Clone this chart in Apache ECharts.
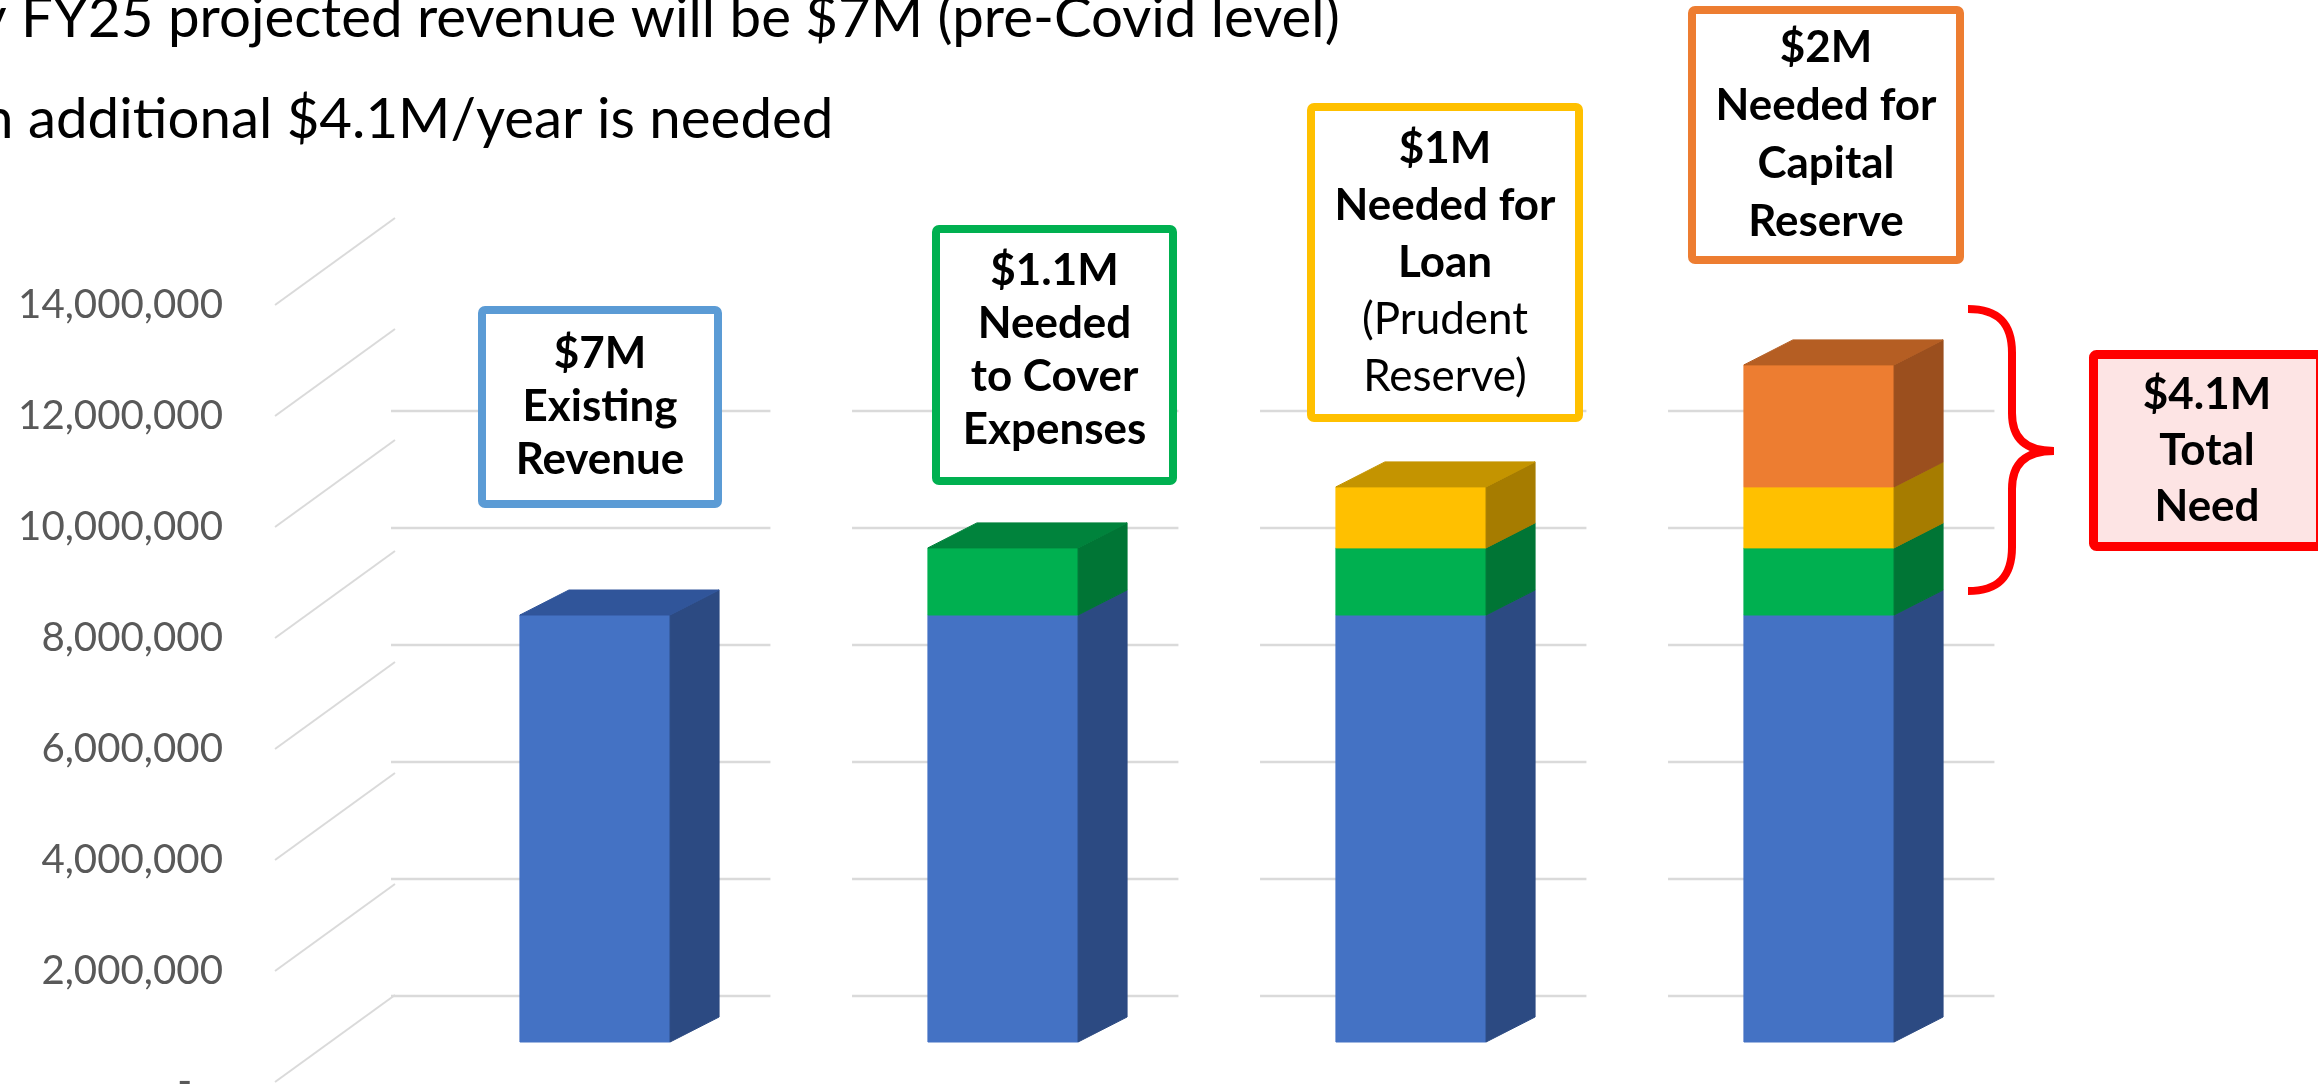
<!DOCTYPE html>
<html>
<head>
<meta charset="utf-8">
<script src="https://cdn.jsdelivr.net/npm/echarts@6/dist/echarts.min.js"></script>
<style>
  html, body { margin: 0; padding: 0; background: #ffffff; }
  #root { width: 2318px; height: 1085px; }
</style>
</head>
<body>
<div id="root"></div>
<script>
const categories = ['Existing Revenue', 'Cover Expenses', 'Loan', 'Capital Reserve']
const existingRevenue = [7000000, 7000000, 7000000, 7000000]
const coverExpenses = [0, 1100000, 1100000, 1100000]
const loanReserve = [0, 0, 1000000, 1000000]
const capitalReserve = [0, 0, 0, 2000000]
const yTicks = [0, 2000000, 4000000, 6000000, 8000000, 10000000, 12000000, 14000000]
const backWallMax = 10000000

const headlines = [
  'By FY25 projected revenue will be $7M (pre-Covid level)',
  'An additional $4.1M/year is needed'
]
const calloutText = [
  ['$7M', 'Existing', 'Revenue'],
  ['$1.1M', 'Needed', 'to Cover', 'Expenses'],
  ['$1M', 'Needed for', 'Loan', '(Prudent', 'Reserve)'],
  ['$2M', 'Needed for', 'Capital', 'Reserve'],
  ['$4.1M', 'Total', 'Need']
]

// slide layout (outer box bounds in px), not data
const boxes = [
  { x: 478, y: 306, w: 244, h: 202, stroke: '#5B9BD5', fill: '#FFFFFF', pitch: 53, dy: 0 },
  { x: 932, y: 225, w: 245, h: 260, stroke: '#00B050', fill: '#FFFFFF', pitch: 53, dy: -5 },
  { x: 1307, y: 103, w: 276, h: 319, stroke: '#FFC000', fill: '#FFFFFF', pitch: 57, dy: 0, plainFrom: 3 },
  { x: 1688, y: 6, w: 276, h: 258, stroke: '#ED7D31', fill: '#FFFFFF', pitch: 58, dy: 0 },
  { x: 2089, y: 350, w: 236, h: 201, stroke: '#FF0000', fill: '#FDE4E4', pitch: 56, dy: 0, lw: 9 }
]

const layers = [
  { name: 'Existing Revenue', values: existingRevenue, front: '#4472C4', side: '#2C4A82', top: '#30559A' },
  { name: 'Needed to Cover Expenses', values: coverExpenses, front: '#00B050', side: '#007535', top: '#00833C' },
  { name: 'Needed for Loan', values: loanReserve, front: '#FFC000', side: '#A67C00', top: '#C49400' },
  { name: 'Needed for Capital Reserve', values: capitalReserve, front: '#ED7D31', side: '#9B4F1E', top: '#B55E23' }
]

const DEPTH_X = 49
const DEPTH_Y = -25
const WALL_RISE = 87
const FONT = 'Lato, "Open Sans", sans-serif'

const ctx = document.createElement('canvas').getContext('2d')
const measure = (text, font) => {
  ctx.font = font
  return ctx.measureText(text).width
}

// fit font sizes to widths
const headBody = headlines[0].slice(headlines[0].indexOf(' ') + 1)
const headSize = 100 * 1320 / measure(headBody, `100px ${FONT}`)
const headFont = `${headSize.toFixed(1)}px ${FONT}`
const boxSize = 100 * 221 / measure('Needed for', `bold 100px ${FONT}`)
const labelSize = 100 * 205 / measure('14,000,000', `100px ${FONT}`)

const stackTop = categories.map((c, i) => {
  let top = -1
  layers.forEach((l, k) => { if (l.values[i] > 0) top = k })
  return top
})

const layerData = k => {
  const out = []
  categories.forEach((c, i) => {
    const v = layers[k].values[i]
    if (!v) return
    let base = 0
    for (let j = 0; j < k; j++) base += layers[j].values[i]
    out.push([i, base, base + v, stackTop[i] === k ? 1 : 0])
  })
  return out
}

const renderBlock = layer => (params, api) => {
  const i = api.value(0)
  const lo = api.coord([i, api.value(1)])
  const hi = api.coord([i, api.value(2)])
  const w = api.size([1, 0])[0] * 0.368
  const x0 = lo[0] - w / 2
  const x1 = lo[0] + w / 2
  const children = [
    {
      type: 'rect',
      shape: { x: x0, y: hi[1], width: w, height: lo[1] - hi[1] },
      style: { fill: layer.front, stroke: layer.front, lineWidth: 1 }
    },
    {
      type: 'polygon',
      shape: { points: [[x1, lo[1]], [x1, hi[1]], [x1 + DEPTH_X, hi[1] + DEPTH_Y], [x1 + DEPTH_X, lo[1] + DEPTH_Y]] },
      style: { fill: layer.side, stroke: layer.side, lineWidth: 1 }
    }
  ]
  if (api.value(3)) {
    children.push({
      type: 'polygon',
      shape: { points: [[x0, hi[1]], [x1, hi[1]], [x1 + DEPTH_X, hi[1] + DEPTH_Y], [x0 + DEPTH_X, hi[1] + DEPTH_Y]] },
      style: { fill: layer.top, stroke: layer.top, lineWidth: 1 }
    })
  }
  return { type: 'group', children }
}

const gridLineData = []
categories.forEach((c, i) => {
  yTicks.filter(v => v <= backWallMax).forEach(v => gridLineData.push([i, v]))
})

const renderGridLine = (params, api) => {
  const i = api.value(0)
  const p = api.coord([i, api.value(1)])
  const band = api.size([1, 0])[0]
  const x1 = i === 0 ? params.coordSys.x : p[0] - band * 0.37
  return {
    type: 'line',
    shape: { x1, y1: p[1], x2: p[0] + band * 0.43, y2: p[1] },
    style: { stroke: '#DADADA', lineWidth: 2.5 }
  }
}

const renderWall = (params, api) => {
  const v = api.value(1)
  const front = api.coord([0, v])
  const back = api.coord([1, v])
  return {
    type: 'line',
    shape: { x1: front[0], y1: front[1], x2: back[0], y2: back[1] - WALL_RISE },
    style: { stroke: '#DADADA', lineWidth: 2 }
  }
}

const headlineStart = [21, 28]
const headlineBaseline = [37, 138]

const graphics = []
headlines.forEach((line, j) => {
  const lead = line.slice(0, line.indexOf(' ') + 1)
  graphics.push({
    type: 'text',
    z: 100,
    x: headlineStart[j] - measure(lead, headFont),
    y: headlineBaseline[j] - 0.3225 * headSize,
    style: {
      text: line,
      font: headFont,
      fill: '#000000',
      verticalAlign: 'middle',
      textVerticalAlign: 'middle'
    }
  })
})

boxes.forEach((b, k) => {
  const lw = b.lw || 8
  graphics.push({
    type: 'rect',
    z: 100,
    shape: { x: b.x + lw / 2, y: b.y + lw / 2, width: b.w - lw, height: b.h - lw, r: 3 },
    style: { fill: b.fill, stroke: b.stroke, lineWidth: lw }
  })
  const text = calloutText[k]
    .map((t, j) => `{${b.plainFrom !== undefined && j >= b.plainFrom ? 'r' : 'b'}|${t}}`)
    .join('\n')
  graphics.push({
    type: 'text',
    z: 101,
    x: b.x + b.w / 2,
    y: b.y + b.h / 2 + b.dy,
    style: {
      text,
      align: 'center',
      textAlign: 'center',
      verticalAlign: 'middle',
      textVerticalAlign: 'middle',
      font: `bold ${boxSize.toFixed(1)}px ${FONT}`,
      fill: '#000000',
      rich: {
        b: { fontFamily: FONT, fontWeight: 'bold', fontSize: boxSize, lineHeight: b.pitch, fill: '#000000', align: 'center' },
        r: { fontFamily: FONT, fontWeight: 'normal', fontSize: boxSize, lineHeight: b.pitch, fill: '#000000', align: 'center' }
      }
    }
  })
})

// curly brace next to the last bar
const braceStyle = { fill: null, stroke: '#FF0000', lineWidth: 8 }
const brace = (a, b, c, d) => ({
  type: 'bezierCurve',
  shape: { x1: a[0], y1: a[1], cpx1: b[0], cpy1: b[1], cpx2: c[0], cpy2: c[1], x2: d[0], y2: d[1] },
  style: braceStyle
})
graphics.push({
  type: 'group',
  z: 100,
  x: 1968,
  y: 309,
  children: [
    brace([0, 0], [30, 0], [44, 14], [44, 44]),
    { type: 'line', shape: { x1: 44, y1: 43, x2: 44, y2: 105 }, style: braceStyle },
    brace([44, 104], [44, 128], [56, 142], [86, 142]),
    brace([86, 142], [56, 142], [44, 156], [44, 180]),
    { type: 'line', shape: { x1: 44, y1: 179, x2: 44, y2: 239 }, style: braceStyle },
    brace([44, 238], [44, 268], [30, 282], [0, 282])
  ]
})

const gridBase = { outerBoundsMode: 'none', containLabel: false }

const option = {
  animation: false,
  backgroundColor: '#FFFFFF',
  grid: [
    { ...gridBase, left: 275, top: 305, width: 120, height: 777 },
    { ...gridBase, left: 391, right: 295, top: 411, height: 585 },
    { ...gridBase, left: 391, right: 295, top: 188, height: 854 }
  ],
  xAxis: [
    { gridIndex: 0, type: 'value', min: 0, max: 1, show: false },
    { gridIndex: 1, type: 'category', data: categories, show: false },
    { gridIndex: 2, type: 'category', data: categories, show: false }
  ],
  yAxis: [
    {
      gridIndex: 0,
      type: 'value',
      min: yTicks[0],
      max: yTicks[yTicks.length - 1],
      interval: yTicks[1] - yTicks[0],
      axisLine: { show: false },
      axisTick: { show: false },
      splitLine: { show: false },
      axisLabel: {
        margin: 52,
        color: '#595959',
        fontFamily: FONT,
        fontSize: labelSize,
        showMinLabel: true,
        showMaxLabel: true,
        formatter: v => v === 0 ? '-   ' : v.toLocaleString('en-US')
      }
    },
    { gridIndex: 1, type: 'value', min: 0, max: backWallMax, show: false },
    { gridIndex: 2, type: 'value', min: 0, max: yTicks[yTicks.length - 1], show: false }
  ],
  series: [
    {
      type: 'custom',
      name: 'wall',
      xAxisIndex: 0,
      yAxisIndex: 0,
      z: 1,
      silent: true,
      renderItem: renderWall,
      data: yTicks.map(v => [0, v])
    },
    {
      type: 'custom',
      name: 'gridlines',
      xAxisIndex: 1,
      yAxisIndex: 1,
      z: 1,
      silent: true,
      renderItem: renderGridLine,
      data: gridLineData
    },
    ...layers.map((layer, k) => ({
      type: 'custom',
      name: layer.name,
      xAxisIndex: 2,
      yAxisIndex: 2,
      z: 2 + k,
      renderItem: renderBlock(layer),
      encode: { x: 0, y: [1, 2] },
      data: layerData(k)
    }))
  ],
  graphic: graphics
}

const chart = echarts.init(document.getElementById('root'))
chart.setOption(option)
</script>
</body>
</html>
